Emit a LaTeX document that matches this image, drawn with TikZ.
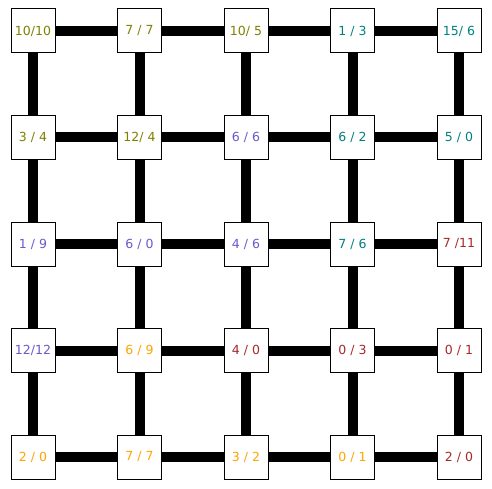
\documentclass[tikz,border=0pt]{standalone}
\usepackage{fontspec}
\setmainfont{DejaVu Sans}
\definecolor{olivetxt}{HTML}{808000}
\definecolor{tealtxt}{HTML}{008080}
\definecolor{slatetxt}{HTML}{6A5ACD}
\definecolor{browntxt}{HTML}{A52A2A}
\definecolor{orangetxt}{HTML}{FFA500}
\begin{document}
\begin{tikzpicture}[x=1pt,y=-1pt,
  box/.style={draw,fill=white,line width=1pt,minimum size=44pt,inner sep=0pt,
    font=\fontsize{12.5}{14}\selectfont},
  link/.style={line width=10pt}]
\useasboundingbox (0,0) rectangle (492,489);
\newcommand{\putbox}[5]{\node[box,text=#4] (#1) at (#2,#3) {#5};}

\putbox{a1}{33}{31}{olivetxt}{10/10}
\putbox{a2}{139.5}{31}{olivetxt}{7 / 7}
\putbox{a3}{246}{31}{olivetxt}{10/ 5}
\putbox{a4}{352.5}{31}{tealtxt}{1 / 3}
\putbox{a5}{459}{31}{tealtxt}{15/ 6}

\putbox{b1}{33}{137.5}{olivetxt}{3 / 4}
\putbox{b2}{139.5}{137.5}{olivetxt}{12/ 4}
\putbox{b3}{246}{137.5}{slatetxt}{6 / 6}
\putbox{b4}{352.5}{137.5}{tealtxt}{6 / 2}
\putbox{b5}{459}{137.5}{tealtxt}{5 / 0}

\putbox{c1}{33}{244}{slatetxt}{1 / 9}
\putbox{c2}{139.5}{244}{slatetxt}{6 / 0}
\putbox{c3}{246}{244}{slatetxt}{4 / 6}
\putbox{c4}{352.5}{244}{tealtxt}{7 / 6}
\putbox{c5}{459}{244}{browntxt}{7 /11}

\putbox{d1}{33}{350.5}{slatetxt}{12/12}
\putbox{d2}{139.5}{350.5}{orangetxt}{6 / 9}
\putbox{d3}{246}{350.5}{browntxt}{4 / 0}
\putbox{d4}{352.5}{350.5}{browntxt}{0 / 3}
\putbox{d5}{459}{350.5}{browntxt}{0 / 1}

\putbox{e1}{33}{457}{orangetxt}{2 / 0}
\putbox{e2}{139.5}{457}{orangetxt}{7 / 7}
\putbox{e3}{246}{457}{orangetxt}{3 / 2}
\putbox{e4}{352.5}{457}{orangetxt}{0 / 1}
\putbox{e5}{459}{457}{browntxt}{2 / 0}

% rows
\draw[link] (a1) -- (a2);
\draw[link] (a2) -- (a3);
\draw[link] (a3) -- (a4);
\draw[link] (a4) -- (a5);
\draw[link] (b1) -- (b2);
\draw[link] (b2) -- (b3);
\draw[link] (b3) -- (b4);
\draw[link] (b4) -- (b5);
\draw[link] (c1) -- (c2);
\draw[link] (c2) -- (c3);
\draw[link] (c3) -- (c4);
\draw[link] (c4) -- (c5);
\draw[link] (d1) -- (d2);
\draw[link] (d2) -- (d3);
\draw[link] (d3) -- (d4);
\draw[link] (d4) -- (d5);
\draw[link] (e1) -- (e2);
\draw[link] (e2) -- (e3);
\draw[link] (e3) -- (e4);
\draw[link] (e4) -- (e5);

% columns
\draw[link] (a1) -- (b1);
\draw[link] (b1) -- (c1);
\draw[link] (c1) -- (d1);
\draw[link] (d1) -- (e1);
\draw[link] (a2) -- (b2);
\draw[link] (b2) -- (c2);
\draw[link] (c2) -- (d2);
\draw[link] (d2) -- (e2);
\draw[link] (a3) -- (b3);
\draw[link] (b3) -- (c3);
\draw[link] (c3) -- (d3);
\draw[link] (d3) -- (e3);
\draw[link] (a4) -- (b4);
\draw[link] (b4) -- (c4);
\draw[link] (c4) -- (d4);
\draw[link] (d4) -- (e4);
\draw[link] (a5) -- (b5);
\draw[link] (b5) -- (c5);
\draw[link] (c5) -- (d5);
\draw[link] (d5) -- (e5);
\end{tikzpicture}
\end{document}
